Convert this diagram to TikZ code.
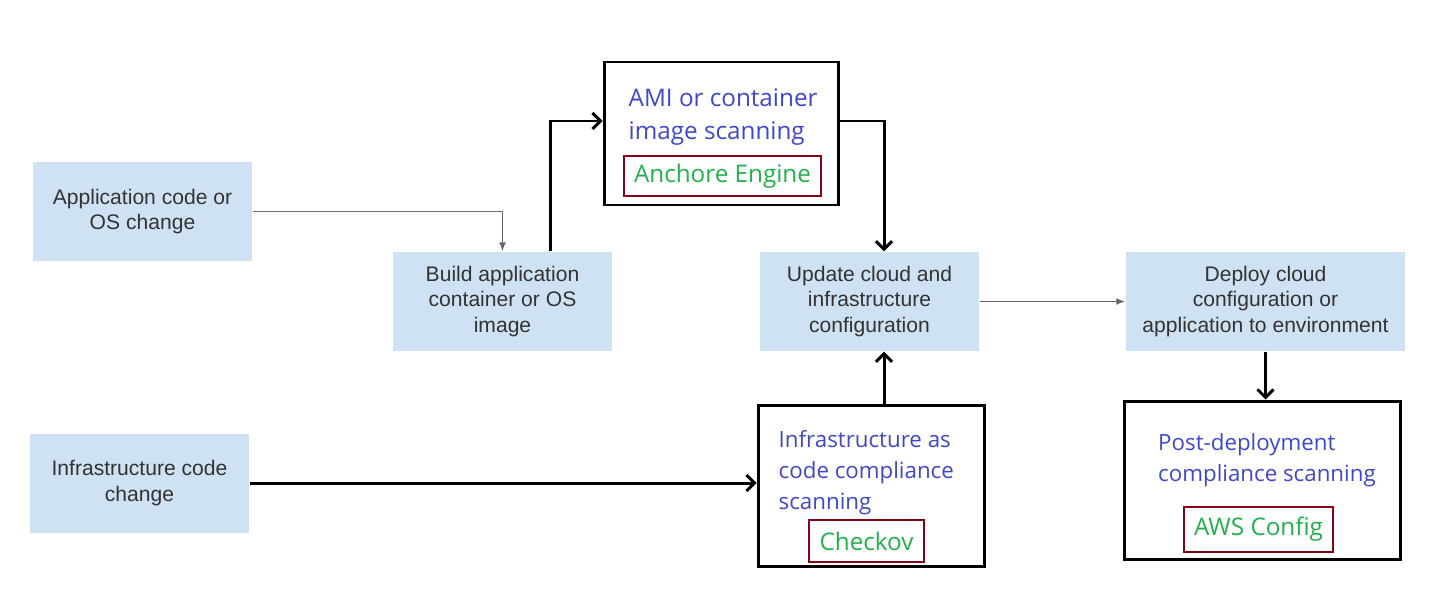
\documentclass[tikz,border=0pt]{standalone}
\usepackage{fontspec}
\setmainfont{Liberation Sans}
\newfontfamily\scanfont{Open Sans}
\usetikzlibrary{arrows.meta}
\definecolor{stepblue}{HTML}{CFE2F3}
\definecolor{steptext}{HTML}{333333}
\definecolor{scanblue}{HTML}{3F48CC}
\definecolor{toolgreen}{HTML}{22B14C}
\definecolor{toolred}{HTML}{880015}
\definecolor{flowgrey}{HTML}{666666}

\begin{document}
\begin{tikzpicture}[
  stepbox/.style={fill=stepblue, text=steptext, minimum width=2.19cm, minimum height=0.99cm,
    inner sep=0pt, align=center, font=\fontsize{6}{7.3}\selectfont},
  scanbox/.style={draw=black, line width=0.85pt, fill=white, inner sep=0pt},
  scantext/.style={text=scanblue, align=left, inner sep=0pt, anchor=north west,
    font=\scanfont\fontsize{6.35}{8.8}\selectfont},
  toolbox/.style={draw=toolred, line width=0.6pt, text=toolgreen, inner sep=0pt,
    font=\scanfont\fontsize{6.9}{8.8}\selectfont},
  flow/.style={draw=flowgrey, line width=0.45pt, -{Latex[length=0.9mm,width=0.7mm]}},
  scanflow/.style={line width=0.85pt, -{Straight Barb[length=0.8mm,width=1.6mm]}}
]

% Background and margins
\fill[white] (0,0) rectangle (14.44,-6.12);
\useasboundingbox (0,0) rectangle (14.44,-6.12);

% Pipeline steps
\node (app) at (1.425,-2.115) [stepbox] {Application code or\\OS change};
\node (build) at (5.025,-3.015) [stepbox] {Build application\\container or OS\\image};
\node (infra) at (1.395,-4.83) [stepbox] {Infrastructure code\\change};
\node (update) at (8.695,-3.015) [stepbox] {Update cloud and\\infrastructure\\configuration};
\node (deploy) at (12.655,-3.015) [stepbox, minimum width=2.79cm] {Deploy cloud\\configuration or\\application to environment};

% Scanning boxes
\node (ami) at (7.21,-1.335) [scanbox, minimum width=2.34cm, minimum height=1.43cm] {};
\node (iac) at (8.71,-4.855) [scanbox, minimum width=2.26cm, minimum height=1.61cm] {};
\node (post) at (12.62,-4.80) [scanbox, minimum width=2.76cm, minimum height=1.58cm] {};

% Scanning texts
\node (amitext) at (6.28,-0.88) [scantext, font=\scanfont\fontsize{6.9}{9.4}\selectfont] {AMI or container\\image scanning};
\node (iactext) at (7.78,-4.30) [scantext] {Infrastructure as\\code compliance\\scanning};
\node (posttext) at (11.575,-4.33) [scantext] {Post-deployment\\compliance scanning};

% Tools
\node (anchore) at (7.225,-1.76) [toolbox, minimum width=1.97cm, minimum height=0.40cm] {Anchore Engine};
\node (checkov) at (8.665,-5.41) [toolbox, minimum width=1.15cm, minimum height=0.42cm] {Checkov};
\node (awsconfig) at (12.585,-5.295) [toolbox, minimum width=1.49cm, minimum height=0.45cm] {AWS Config};

% Bend points
\coordinate (upleft) at (5.50,-1.21);
\coordinate (upright) at (8.84,-1.21);

% Grey flow arrows
\draw[flow] (app.east) -| (build.north);
\draw[flow] (update.east) -- (deploy.west);

% Black scanning arrows
\draw[scanflow] (build.north -| upleft) |- (ami.west |- upleft);
\draw[scanflow] (ami.east |- upright) -| (update.north -| upright);
\draw[scanflow] (infra.east) -- (iac.west |- infra.east);
\draw[scanflow] (iac.north -| upright) -- (update.south -| upright);
\draw[scanflow] (deploy.south) -- (post.north -| deploy.south);

\end{tikzpicture}
\end{document}
